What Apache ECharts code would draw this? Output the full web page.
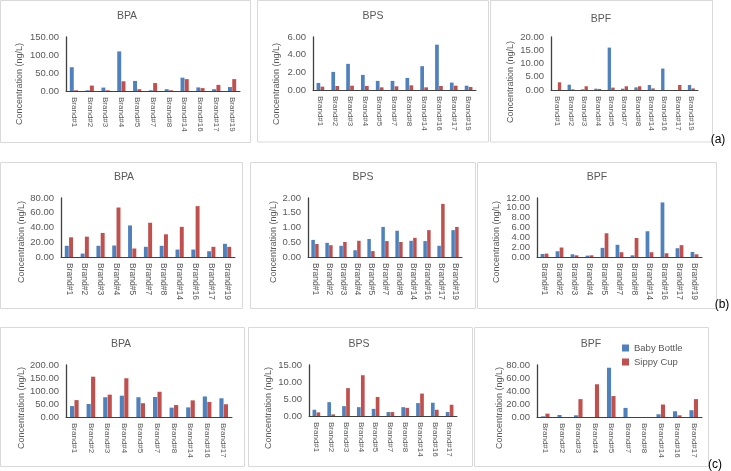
<!DOCTYPE html>
<html>
<head>
<meta charset="utf-8">
<script src="https://cdn.jsdelivr.net/npm/echarts@6/dist/echarts.min.js"></script>
<style>html,body{margin:0;padding:0;background:#fff}#c{width:731px;height:471px}</style>
</head>
<body>
<div id="c"></div>
<script>
// ---- data ----
const CATS_AB = ['Brand#1','Brand#2','Brand#3','Brand#4','Brand#5','Brand#7','Brand#8','Brand#14','Brand#16','Brand#17','Brand#19'];
const CATS_C = ['Brand#1','Brand#2','Brand#3','Brand#4','Brand#5','Brand#7','Brand#8','Brand#14','Brand#16','Brand#17'];
const SERIES_NAMES = ['Baby Bottle', 'Sippy Cup'];
const PANEL_TITLES = ['BPA','BPS','BPF','BPA','BPS','BPF','BPA','BPS','BPF'];
const ROW_LABELS = ['(a)', '(b)', '(c)'];
const Y_TITLE = 'Concentration (ng/L)';

const aBPA_bottle = [66, 2, 9.5, 110, 28, 2, 5, 37, 10, 5, 11];
const aBPA_cup    = [2, 15, 2, 27, 5, 22, 2, 33, 8, 17, 33];
const aBPS_bottle = [0.80, 2.05, 2.96, 1.71, 1.03, 1.03, 1.37, 2.70, 5.13, 0.84, 0.49];
const aBPS_cup    = [0.38, 0.45, 0.49, 0.46, 0.30, 0.42, 0.53, 0.30, 0.46, 0.49, 0.34];
const aBPF_bottle = [0, 2.0, 0.25, 0.5, 16.0, 0.5, 1.0, 1.9, 8.1, 0, 1.9];
const aBPF_cup    = [2.9, 0.25, 1.4, 0.4, 0.9, 1.4, 1.4, 0.6, 0, 1.9, 0.6];

const bBPA_bottle = [15.2, 4.6, 15.2, 15.6, 42.8, 13.8, 15.2, 10.1, 10.1, 7.8, 17.9];
const bBPA_cup    = [26.7, 27.6, 32.6, 67.1, 11.5, 46.4, 30.8, 40.9, 69.0, 13.8, 13.8];
const bBPS_bottle = [0.58, 0.48, 0.38, 0.23, 0.61, 1.02, 0.89, 0.55, 0.54, 0.38, 0.91];
const bBPS_cup    = [0.44, 0.40, 0.51, 0.55, 0.20, 0.54, 0.51, 0.65, 0.91, 1.80, 1.02];
const bBPF_bottle = [0.62, 1.17, 0.55, 0.28, 1.86, 2.48, 0.34, 5.24, 11.1, 1.79, 1.03];
const bBPF_cup    = [0.69, 1.93, 0.34, 0.34, 4.83, 0.97, 3.86, 0.97, 0.76, 2.41, 0.55];

const cBPA_bottle = [42, 50, 76, 82, 76, 77, 36, 37, 79, 72];
const cBPA_cup    = [65, 155, 86, 149, 53, 97, 46, 64, 58, 49];
const cBPS_bottle = [1.84, 4.07, 2.9, 2.6, 2.1, 1.16, 2.6, 3.8, 3.9, 1.16];
const cBPS_cup    = [1.06, 0.48, 8.2, 12.0, 5.6, 1.16, 2.4, 6.6, 1.84, 3.3];
const cBPF_bottle = [1.0, 3.1, 2.6, 0, 75.8, 14.0, 0, 4.2, 8.8, 10.4];
const cBPF_cup    = [5.2, 0, 27.5, 50.4, 32.2, 0, 0, 19.2, 2.6, 27.5];

const Y_MAX  = [150, 6, 20, 80, 2, 12, 200, 15, 80];
const Y_STEP = [50, 2, 5, 20, 0.5, 2, 50, 5, 20];

const PANEL_DATA = [
  [aBPA_bottle, aBPA_cup], [aBPS_bottle, aBPS_cup], [aBPF_bottle, aBPF_cup],
  [bBPA_bottle, bBPA_cup], [bBPS_bottle, bBPS_cup], [bBPF_bottle, bBPF_cup],
  [cBPA_bottle, cBPA_cup], [cBPS_bottle, cBPS_cup], [cBPF_bottle, cBPF_cup]
];
const PANEL_CATS = [CATS_AB, CATS_AB, CATS_AB, CATS_AB, CATS_AB, CATS_AB, CATS_C, CATS_C, CATS_C];

// ---- layout ----
const LAYOUT = [
  {g:[66,37,174,54],  t:[127,16], y:[20,84],  b:[0.5,0.5,250,142], lf:8},
  {g:[313,37,163,53], t:[373,16], y:[277,84], b:[257.5,0.5,231,141.5], lf:8},
  {g:[551,37,147,53], t:[601,19], y:[511,82], b:[490.5,0.5,222,141.5], lf:8},
  {g:[61,198,174,59], t:[124,177], y:[22,242], b:[0.5,162.5,242,146], lf:8.5},
  {g:[308,198,154,59],t:[363,177], y:[274,242], b:[250.5,162.5,225,146], lf:8.5},
  {g:[537,198,165,59],t:[597,177], y:[497,242], b:[477.5,162.5,239,146], lf:8.5},
  {g:[66,365,166,52], t:[121,344], y:[22,408], b:[0.5,327.5,244,139], lf:8},
  {g:[309,365,148,51],t:[359,344], y:[269,408], b:[248.5,327.5,224,139], lf:8},
  {g:[537,365,165,52],t:[591,344], y:[500,408], b:[474.5,327.5,234,139], lf:8}
];
const ROW_LABEL_POS = [[718,140],[722,305],[715,465]];
const COLORS = ['#4F81BD', '#C0504D'];
const FONT = 'Liberation Sans, Arial, sans-serif';

const chart = echarts.init(document.getElementById('c'), null, {renderer: 'canvas'});
const grid = [], xAxis = [], yAxis = [], series = [], graphic = [];

LAYOUT.forEach((L, i) => {
  graphic.push({type:'rect', shape:{x:L.b[0], y:L.b[1], width:L.b[2], height:L.b[3]},
    style:{fill:'none', stroke:'#D9D9D9', lineWidth:1}, z:-1});
});
LAYOUT.forEach((L, i) => {
  grid.push({left:L.g[0], top:L.g[1], width:L.g[2], height:L.g[3], outerBoundsMode:'none', containLabel:false});
  xAxis.push({type:'category', gridIndex:i, data:PANEL_CATS[i],
    axisLine:{show:true, lineStyle:{color:'#404040', width:1}},
    axisTick:{show:false},
    axisLabel:{interval:0, rotate:-90, margin:6, fontSize:L.lf, color:'#595959', fontFamily:FONT}
  });
  yAxis.push({type:'value', gridIndex:i, min:0, max:Y_MAX[i], interval:Y_STEP[i],
    axisLine:{show:true, lineStyle:{color:'#404040', width:1.3}},
    axisTick:{show:false}, splitLine:{show:false},
    axisLabel:{formatter:v => v.toFixed(2), fontSize:9.5, margin:7, color:'#595959', fontFamily:FONT}
  });
  PANEL_DATA[i].forEach((arr, k) => {
    series.push({type:'bar', name:SERIES_NAMES[k], xAxisIndex:i, yAxisIndex:i, data:arr,
      barGap:'8%', barCategoryGap:'48%', itemStyle:{color:COLORS[k]}, silent:true});
  });
  graphic.push({type:'text', x:L.t[0], y:L.t[1],
    style:{text:PANEL_TITLES[i], fill:'#595959', font:'10.5px ' + FONT, textAlign:'center', textVerticalAlign:'middle'}});
  graphic.push({type:'text', x:L.y[0], y:L.y[1], rotation:Math.PI/2,
    style:{text:Y_TITLE, fill:'#595959', font:'9px ' + FONT, textAlign:'center', textVerticalAlign:'middle'}});
});
ROW_LABELS.forEach((t, r) => {
  graphic.push({type:'text', x:ROW_LABEL_POS[r][0], y:ROW_LABEL_POS[r][1],
    style:{text:t, fill:'#000', font:'12px ' + FONT, textAlign:'center', textVerticalAlign:'middle'}});
});

chart.setOption({
  animation:false,
  grid, xAxis, yAxis, series, graphic,
  legend:{data:SERIES_NAMES, orient:'vertical', left:622, top:343, itemWidth:7, itemHeight:7, itemGap:4,
    padding:0, icon:'rect', textStyle:{fontSize:9.5, color:'#595959', fontFamily:FONT}}
});
</script>
</body>
</html>
